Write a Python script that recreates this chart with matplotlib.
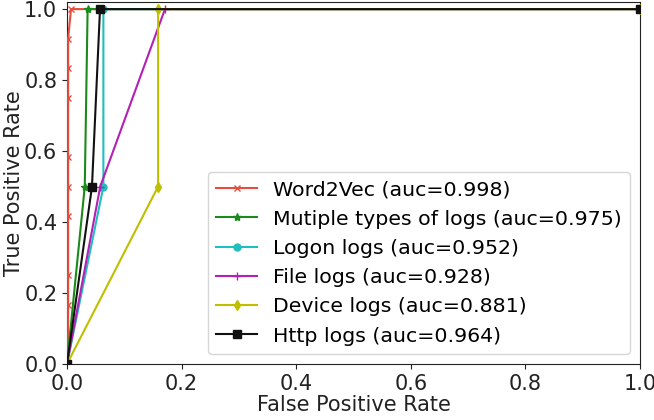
import matplotlib
matplotlib.use("Agg")
import matplotlib.pyplot as plt

# ROC points (false positive rate, true positive rate) per model
w2v_fpr = [0, 0.002, 0.002, 0.002, 0.002, 0.002, 0.002, 0.002, 0.002, 0.002, 0.007, 1.0]
w2v_tpr = [0, 1/12, 2/12, 3/12, 5/12, 6/12, 7/12, 9/12, 10/12, 11/12, 1.0, 1.0]

multi_fpr = [0, 0.031, 0.036, 1.0]
multi_tpr = [0, 0.5, 1.0, 1.0]

logon_fpr = [0, 0.0635, 0.0635, 1.0]
logon_tpr = [0, 0.5, 1.0, 1.0]

file_fpr = [0, 0.058, 0.171, 1.0]
file_tpr = [0, 0.5, 1.0, 1.0]

device_fpr = [0, 0.159, 0.159, 1.0]
device_tpr = [0, 0.5, 1.0, 1.0]

http_fpr = [0, 0.0436, 0.0576, 1.0]
http_tpr = [0, 0.5, 1.0, 1.0]

labels = [
    "Word2Vec (auc=0.998)",
    "Mutiple types of logs (auc=0.975)",
    "Logon logs (auc=0.952)",
    "File logs (auc=0.928)",
    "Device logs (auc=0.881)",
    "Http logs (auc=0.964)",
]

fig = plt.figure(figsize=(6.54, 4.2), dpi=100)
ax = fig.add_axes([67 / 654, 56 / 420, 573 / 654, 362 / 420])

ax.plot(w2v_fpr, w2v_tpr, color="#e74c3c", marker="x", ms=5, lw=1.5, label=labels[0], zorder=3)
ax.plot(multi_fpr, multi_tpr, color="#1a8a1a", marker="*", ms=6, lw=1.5, label=labels[1], zorder=3)
ax.plot(logon_fpr, logon_tpr, color="#1fbfbf", marker="o", ms=5, lw=1.5, label=labels[2], zorder=3)
ax.plot(file_fpr, file_tpr, color="#b41fb4", marker="+", ms=6, lw=1.5, label=labels[3], zorder=3)
ax.plot(device_fpr, device_tpr, color="#bfbf00", marker="d", ms=5, lw=1.5, label=labels[4], zorder=3)
ax.plot(http_fpr, http_tpr, color="#111111", marker="s", ms=6, lw=1.5, label=labels[5], zorder=3)

ax.set_xlim(0, 1.0)
ax.set_ylim(0, 1.02)
ax.set_xticks([0, 0.2, 0.4, 0.6, 0.8, 1.0])
ax.set_yticks([0, 0.2, 0.4, 0.6, 0.8, 1.0])
ax.tick_params(labelsize=15, colors="#222222")
ax.set_xlabel("False Positive Rate", fontsize=15, color="#222222", labelpad=1)
ax.set_ylabel("True Positive Rate", fontsize=15, color="#222222", labelpad=0)
for s in ax.spines.values():
    s.set_color("#222222")

leg = ax.legend(loc="lower right", fontsize=14.75, handlelength=2.0, handletextpad=0.75,
                labelspacing=0.5)
leg.set_zorder(5)

fig.savefig("out.png", dpi=100)
